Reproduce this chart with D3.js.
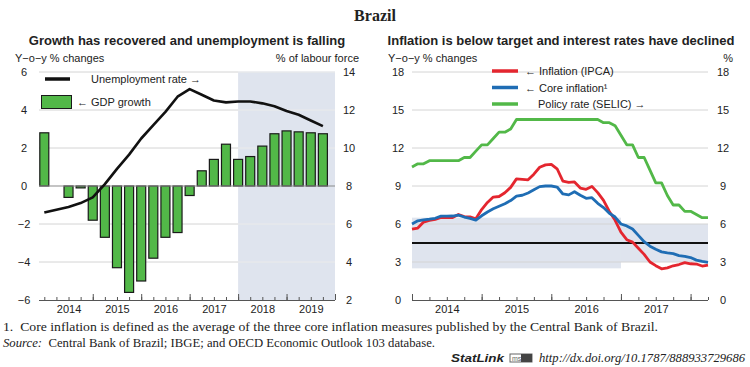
<!DOCTYPE html>
<html>
<head>
<meta charset="utf-8">
<script src="https://cdn.jsdelivr.net/npm/d3@7"></script>
<style>
  body { margin: 0; background: #fff; }
  svg { display: block; }
  text { font-family: "Liberation Sans", Arial, sans-serif; fill: #222; }
</style>
</head>
<body>
<svg id="chart" width="750" height="367"></svg>
<script>
// ---- Left panel data (quarterly, 2014Q1 - 2019Q4) ----
const gdpGrowth = [2.8, null, -0.6, -0.1, -1.8, -2.7, -4.3, -5.6, -5.0, -3.8, -2.7, -2.45,
                   -0.5, 0.8, 1.4, 2.2, 1.4, 1.55, 2.1, 2.75, 2.9, 2.85, 2.8, 2.75];
const unemployment = [6.6, 6.75, 6.9, 7.1, 7.4, 8.1, 8.9, 9.65, 10.5, 11.2, 11.9, 12.7,
                      13.1, 12.8, 12.5, 12.4, 12.45, 12.45, 12.35, 12.2, 11.95, 11.75, 11.45, 11.15];
const leftYears = ['2014', '2015', '2016', '2017', '2018', '2019'];
const leftTicks = [-6, -4, -2, 0, 2, 4, 6];
const leftTicksRight = [2, 4, 6, 8, 10, 12, 14];
const projectionStart = 16; // quarter index where shading begins

// ---- Right panel data (monthly, Jan 2014 - Apr 2018) ----
const ipca = [5.59, 5.68, 6.15, 6.28, 6.37, 6.52, 6.50, 6.51, 6.75, 6.59, 6.56, 6.41,
              7.14, 7.70, 8.13, 8.17, 8.47, 8.89, 9.56, 9.53, 9.49, 9.93, 10.48, 10.67,
              10.71, 10.36, 9.39, 9.28, 9.32, 8.84, 8.74, 8.97, 8.48, 7.87, 6.99, 6.29,
              5.35, 4.76, 4.57, 4.08, 3.60, 3.00, 2.71, 2.46, 2.54, 2.70, 2.80, 2.95,
              2.86, 2.84, 2.68, 2.76];
const coreInflation = [6.0, 6.25, 6.33, 6.38, 6.45, 6.62, 6.62, 6.63, 6.7, 6.55, 6.45, 6.3,
                       6.65, 6.95, 7.2, 7.4, 7.6, 7.85, 8.2, 8.27, 8.45, 8.7, 8.95, 9.0,
                       9.0, 8.92, 8.37, 8.3, 8.55, 8.27, 8.03, 8.08, 7.63, 7.3, 6.85, 6.55,
                       6.0, 5.85, 5.6, 5.1, 4.6, 4.25, 4.0, 3.8, 3.72, 3.66, 3.5, 3.45,
                       3.35, 3.15, 3.05, 2.97];
const selic = [10.5, 10.75, 10.75, 11, 11, 11, 11, 11, 11, 11.25, 11.25, 11.75,
               12.25, 12.25, 12.75, 13.25, 13.25, 13.5, 14.25, 14.25, 14.25, 14.25, 14.25, 14.25,
               14.25, 14.25, 14.25, 14.25, 14.25, 14.25, 14.25, 14.25, 14.25, 14.0, 14.0, 13.75,
               13.0, 12.25, 12.25, 11.25, 11.25, 10.25, 9.25, 9.25, 8.25, 7.5, 7.5, 7.0,
               7.0, 6.75, 6.5, 6.5];
const rightYears = ['2014', '2015', '2016', '2017'];
const rightTicks = [0, 3, 6, 9, 12, 15, 18];
// inflation target band: [startMonth, endMonth, low, high]
const targetBands = [[0, 36, 2.5, 6.5], [36, 51, 3, 6]];
const targetCentre = 4.5;

const colors = {
    ipca: '#e4262f',
    core: '#1f6db4',
    selic: '#52b848',
    bar: '#52b848',
    shade: '#dfe4ee',
    grid: '#d4d4d4',
    axis: '#555'
};

const svg = d3.select('#chart');

// ---- Headline ----
svg.append('text')
    .attr('x', 375).attr('y', 21)
    .attr('text-anchor', 'middle')
    .style('font-family', '"Liberation Serif", serif')
    .style('font-weight', 'bold')
    .style('font-size', '16px')
    .text('Brazil');

// =========== LEFT PANEL ===========
const L = { left: 39, right: 335, top: 72, bottom: 300 };
const xL = d3.scaleLinear().domain([0, 24]).range([44.3, 335]);
const yL = d3.scaleLinear().domain([-6, 6]).range([L.bottom, L.top]);
const yL2 = d3.scaleLinear().domain([2, 14]).range([L.bottom, L.top]);

const gL = svg.append('g');

gL.append('text')
    .attr('x', 187).attr('y', 45)
    .attr('text-anchor', 'middle')
    .style('font-weight', 'bold').style('font-size', '13px')
    .text('Growth has recovered and unemployment is falling');
gL.append('text').attr('x', 15).attr('y', 62).style('font-size', '11px').text('Y\u2212o\u2212y % changes');
gL.append('text').attr('x', 359).attr('y', 62).attr('text-anchor', 'end').style('font-size', '11px').text('% of labour force');

// projection shading
gL.append('rect')
    .attr('x', xL(projectionStart)).attr('y', L.top)
    .attr('width', L.right - xL(projectionStart)).attr('height', L.bottom - L.top)
    .attr('fill', colors.shade);

// gridlines
gL.append('g').selectAll('line')
    .data(leftTicks.filter(d => d !== -6 && d !== 0))
    .join('line')
    .attr('x1', L.left).attr('x2', L.right)
    .attr('y1', d => yL(d)).attr('y2', d => yL(d))
    .attr('stroke', colors.grid);
gL.append('g').selectAll('line')
    .data(leftTicks.filter(d => d !== -6 && d !== 0))
    .join('line')
    .attr('x1', xL(projectionStart)).attr('x2', L.right)
    .attr('y1', d => yL(d)).attr('y2', d => yL(d))
    .attr('stroke', '#f1f3f8');

// y tick labels
gL.append('g').selectAll('text')
    .data(leftTicks).join('text')
    .attr('x', 24).attr('y', d => yL(d) + 4)
    .attr('text-anchor', 'middle').style('font-size', '11px')
    .text(d => d3.format('')(d));
gL.append('g').selectAll('text')
    .data(leftTicksRight).join('text')
    .attr('x', 349).attr('y', d => yL2(d) + 4)
    .attr('text-anchor', 'middle').style('font-size', '11px')
    .text(d => d);

// bars
const barW = 10;
gL.append('g').selectAll('rect')
    .data(gdpGrowth.map((v, i) => ({ i, v })).filter(d => d.v !== null))
    .join('rect')
    .attr('x', d => xL(d.i) - barW / 2 + 0.5)
    .attr('width', barW - 1)
    .attr('y', d => yL(Math.max(0, d.v)))
    .attr('height', d => Math.abs(yL(d.v) - yL(0)))
    .attr('fill', colors.bar)
    .attr('stroke', '#1a1a1a')
    .attr('stroke-width', 1.2);

// zero line
gL.append('line')
    .attr('x1', L.left).attr('x2', L.right)
    .attr('y1', yL(0)).attr('y2', yL(0))
    .attr('stroke', '#8a8a8a').attr('stroke-width', 1.2);

// unemployment line
gL.append('path')
    .datum(unemployment)
    .attr('fill', 'none')
    .attr('stroke', '#111')
    .attr('stroke-width', 2.6)
    .attr('stroke-linejoin', 'round')
    .attr('d', d3.line().x((d, i) => xL(i)).y(d => yL2(d)));

// x axis
const axL = gL.append('g').attr('transform', `translate(0,${L.bottom})`);
axL.call(d3.axisBottom(xL).tickValues(d3.range(0, 25)).tickSizeInner(-3).tickSizeOuter(0).tickFormat(''));
axL.append('g').call(d3.axisBottom(xL).tickValues(d3.range(4, 25, 4)).tickSizeInner(-6).tickSizeOuter(0).tickFormat(''));
axL.selectAll('.domain').attr('d', `M${L.left},0.5H${L.right}`);
axL.selectAll('path, line').attr('stroke', colors.axis);
axL.append('g').call(d3.axisBottom(xL).tickValues(d3.range(2, 24, 4)).tickSize(0)
        .tickFormat((d, i) => leftYears[i]))
    .call(g => g.select('.domain').remove())
    .selectAll('text').attr('dy', '0.71em').attr('y', 5)
    .style('font-size', '11px').style('fill', '#222').style('font-family', '"Liberation Sans", Arial, sans-serif');

// legend
const legL = gL.append('g');
legL.append('line').attr('x1', 45).attr('x2', 70).attr('y1', 79).attr('y2', 79).attr('stroke', '#111').attr('stroke-width', 3.5);
legL.append('text').attr('x', 91).attr('y', 83).style('font-size', '11px').text('Unemployment rate \u2192');
legL.append('rect').attr('x', 41.5).attr('y', 95.5).attr('width', 30).attr('height', 13)
    .attr('fill', colors.bar).attr('stroke', '#1a1a1a');
legL.append('text').attr('x', 77).attr('y', 106).style('font-size', '11px').text('\u2190 GDP growth');

// =========== RIGHT PANEL ===========
const R = { left: 412, right: 708, top: 72, bottom: 300 };
const xR = d3.scaleLinear().domain([0, 51]).range([412, 708]);
const yR = d3.scaleLinear().domain([0, 18]).range([R.bottom, R.top]);

const gR = svg.append('g');

gR.append('text')
    .attr('x', 561).attr('y', 45)
    .attr('text-anchor', 'middle')
    .style('font-weight', 'bold').style('font-size', '13px')
    .text('Inflation is below target and interest rates have declined');
gR.append('text').attr('x', 388).attr('y', 62).style('font-size', '11px').text('Y\u2212o\u2212y % changes');
gR.append('text').attr('x', 733).attr('y', 62).attr('text-anchor', 'end').style('font-size', '11px').text('%');

// target band
gR.append('g').selectAll('rect')
    .data(targetBands).join('rect')
    .attr('x', d => xR(d[0])).attr('width', d => xR(d[1]) - xR(d[0]))
    .attr('y', d => yR(d[3])).attr('height', d => yR(d[2]) - yR(d[3]))
    .attr('fill', colors.shade);

// gridlines
gR.append('g').selectAll('line')
    .data(rightTicks.filter(d => d !== 0))
    .join('line')
    .attr('x1', R.left).attr('x2', R.right)
    .attr('y1', d => yR(d)).attr('y2', d => yR(d))
    .attr('stroke', colors.grid);

// tick labels
gR.append('g').selectAll('text')
    .data(rightTicks).join('text')
    .attr('x', 398).attr('y', d => yR(d) + 4)
    .attr('text-anchor', 'middle').style('font-size', '11px')
    .text(d => d);
gR.append('g').selectAll('text')
    .data(rightTicks).join('text')
    .attr('x', 723).attr('y', d => yR(d) + 4)
    .attr('text-anchor', 'middle').style('font-size', '11px')
    .text(d => d);

// target centre line
gR.append('line')
    .attr('x1', R.left).attr('x2', R.right)
    .attr('y1', yR(targetCentre)).attr('y2', yR(targetCentre))
    .attr('stroke', '#111').attr('stroke-width', 2);

const lineR = d3.line().x((d, i) => xR(i)).y(d => yR(d));
[[selic, colors.selic], [ipca, colors.ipca], [coreInflation, colors.core]].forEach(([s, c]) => {
    gR.append('path')
        .datum(s)
        .attr('fill', 'none')
        .attr('stroke', c)
        .attr('stroke-width', 2.8)
        .attr('stroke-linejoin', 'round')
        .attr('d', lineR);
});

// x axis
const axR = gR.append('g').attr('transform', `translate(0,${R.bottom})`);
axR.call(d3.axisBottom(xR).tickValues(d3.range(0, 52, 3)).tickSizeInner(-3).tickSizeOuter(0).tickFormat(''));
axR.append('g').call(d3.axisBottom(xR).tickValues(d3.range(0, 52, 12)).tickSizeInner(-6).tickSizeOuter(0).tickFormat(''));
axR.selectAll('.domain').attr('d', `M${R.left},0.5H${R.right}`);
axR.selectAll('path, line').attr('stroke', colors.axis);
axR.append('g').call(d3.axisBottom(xR).tickValues(d3.range(6, 52, 12)).tickSize(0)
        .tickFormat((d, i) => rightYears[i]))
    .call(g => g.select('.domain').remove())
    .selectAll('text').attr('dy', '0.71em').attr('y', 5)
    .style('font-size', '11px').style('fill', '#222').style('font-family', '"Liberation Sans", Arial, sans-serif');

// legend
const legR = gR.append('g');
const legItems = [
    { label: '\u2190 Inflation (IPCA)', color: colors.ipca, x: 525 },
    { label: '\u2190 Core inflation\u00b9', color: colors.core, x: 525 },
    { label: 'Policy rate (SELIC) \u2192', color: colors.selic, x: 538 }
];
legItems.forEach((d, i) => {
    const y = 71 + i * 16.5;
    legR.append('line').attr('x1', 492).attr('x2', 518).attr('y1', y).attr('y2', y)
        .attr('stroke', d.color).attr('stroke-width', 3.5);
    legR.append('text').attr('x', d.x).attr('y', y + 4).style('font-size', '11px').text(d.label);
});

// =========== NOTES ===========
const notes = svg.append('g');
notes.append('text').attr('x', 3).attr('y', 331)
    .attr('textLength', 655).attr('lengthAdjust', 'spacingAndGlyphs')
    .style('font-family', '"Liberation Serif", serif').style('font-size', '13px').style('white-space', 'pre')
    .text('1.  Core inflation is defined as the average of the three core inflation measures published by the Central Bank of Brazil.');
const src = notes.append('text').attr('x', 3).attr('y', 347)
    .attr('textLength', 432).attr('lengthAdjust', 'spacingAndGlyphs')
    .style('font-family', '"Liberation Serif", serif').style('font-size', '13px').style('white-space', 'pre');
src.append('tspan').style('font-style', 'italic').text('Source:');
src.append('tspan').text('  Central Bank of Brazil; IBGE; and OECD Economic Outlook 103 database.');

svg.append('text').attr('x', 451).attr('y', 362)
    .attr('textLength', 53).attr('lengthAdjust', 'spacingAndGlyphs')
    .style('font-style', 'italic').style('font-weight', 'bold').style('font-size', '11.5px')
    .text('StatLink');
const icon = svg.append('g').attr('transform', 'translate(510,354)');
icon.append('rect').attr('width', 22).attr('height', 8).attr('fill', '#fff').attr('stroke', '#666');
icon.append('rect').attr('x', 11).attr('width', 11).attr('height', 8).attr('fill', '#444');
icon.append('text').attr('x', 2).attr('y', 7).style('font-size', '7px').style('fill', '#666').text('ms');
svg.append('text').attr('x', 539).attr('y', 362)
    .attr('textLength', 206).attr('lengthAdjust', 'spacingAndGlyphs')
    .style('font-family', '"Liberation Serif", serif').style('font-style', 'italic').style('font-size', '12.5px')
    .text('http://dx.doi.org/10.1787/888933729686');
</script>
</body>
</html>
